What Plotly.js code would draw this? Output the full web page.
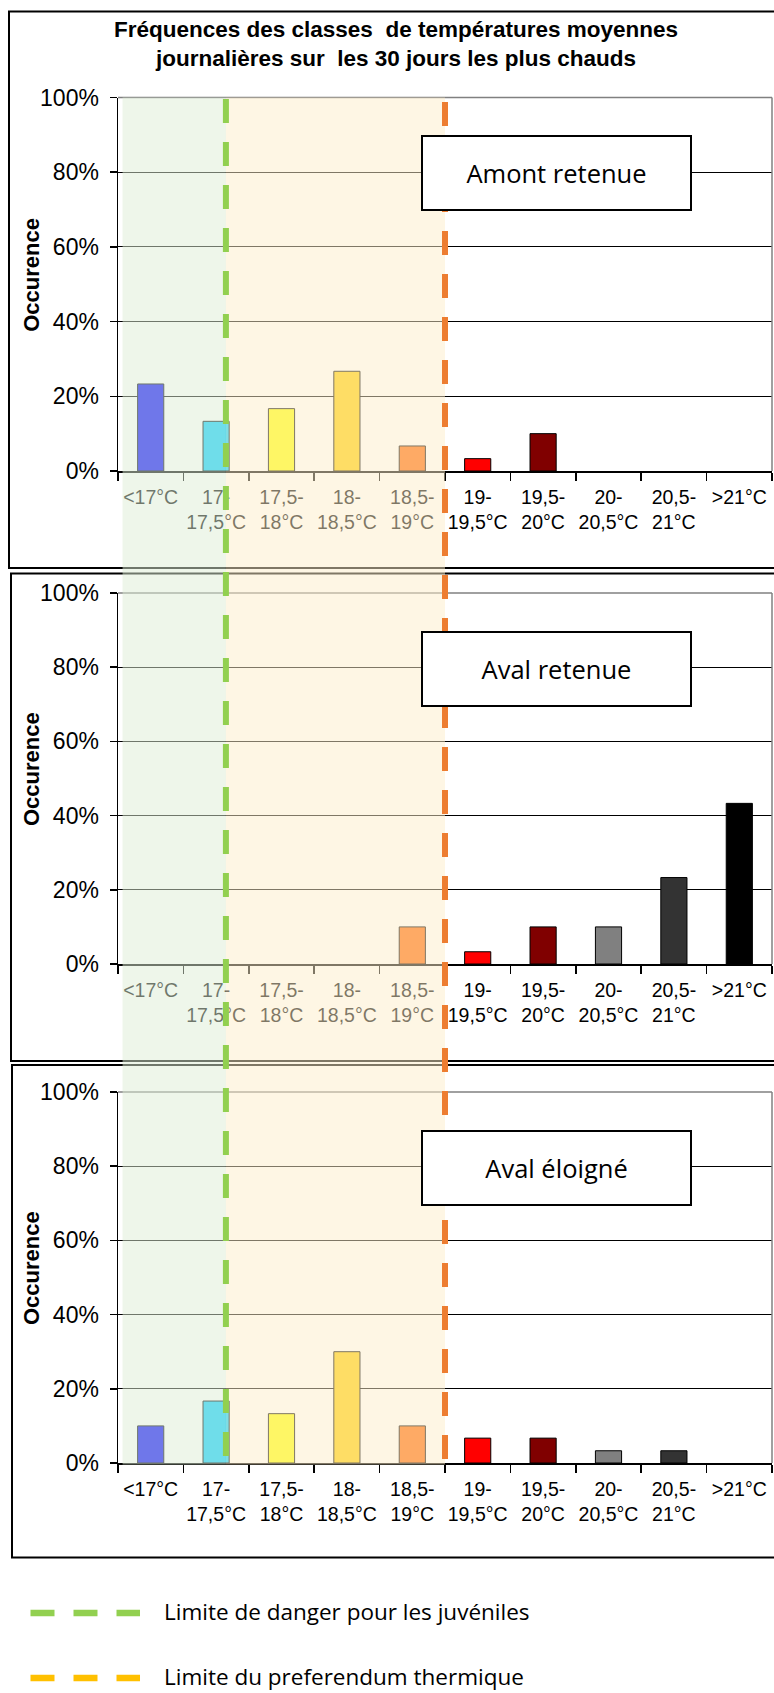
<!DOCTYPE html>
<html>
<head>
<meta charset="utf-8">
<script src="https://cdn.plot.ly/plotly-3.0.1.min.js"></script>
<style>html,body{margin:0;padding:0;background:#fff;}#chart{width:774px;height:1693px;}</style>
</head>
<body>
<div id="chart"></div>
<script>
// ---- data ----
const categories = ['<17°C','17-17,5°C','17,5-18°C','18-18,5°C','18,5-19°C','19-19,5°C','19,5-20°C','20-20,5°C','20,5-21°C','>21°C'];
const tickLabels = ['&lt;17°C','17-<br>17,5°C','17,5-<br>18°C','18-<br>18,5°C','18,5-<br>19°C','19-<br>19,5°C','19,5-<br>20°C','20-<br>20,5°C','20,5-<br>21°C','&gt;21°C'];
const amontRetenue = [23.3, 13.3, 16.7, 26.7, 6.7, 3.3, 10.0, 0, 0, 0];
const avalRetenue  = [0, 0, 0, 0, 10.0, 3.3, 10.0, 10.0, 23.3, 43.3];
const avalEloigne  = [10.0, 16.7, 13.3, 30.0, 10.0, 6.7, 6.7, 3.3, 3.3, 0];
const panelNames = ['Amont retenue', 'Aval retenue', 'Aval éloigné'];
const barColors = ['#0000FF','#00CCFF','#FFFF00','#FFCC00','#FF6600','#FF0000','#800000','#808080','#333333','#000000'];
const yTicks = [0, 20, 40, 60, 80, 100];
const yTickLabels = ['0%', '20%', '40%', '60%', '80%', '100%'];
const yTitle = 'Occurence';
const juvenileLimit = 1.15;     // position on category axis (index units)
const preferendumLimit = 4.5;
const legendLabels = ['Limite de danger pour les juvéniles', 'Limite du preferendum thermique'];

// ---- geometry ----
const W = 774, H = 1693;
const px = v => v / W;
const py = v => 1 - v / H;
const xDom = [118 / W, 772 / W];
const panels = [
  {top: 97.5, bottom: 471},
  {top: 593, bottom: 964},
  {top: 1092, bottom: 1463}
];
const catToPaper = v => xDom[0] + (v + 0.5) / categories.length * (xDom[1] - xDom[0]);

const series = [amontRetenue, avalRetenue, avalEloigne];
const traces = series.map((vals, i) => ({
  type: 'bar',
  x: categories,
  y: vals,
  xaxis: i === 0 ? 'x' : 'x' + (i + 1),
  yaxis: i === 0 ? 'y' : 'y' + (i + 1),
  width: 0.4,
  marker: {color: barColors, line: {color: '#000000', width: vals.map(v => v > 0 ? 1 : 0)}},
  showlegend: false,
  hoverinfo: 'skip'
}));

const layout = {
  width: W, height: H,
  margin: {l: 0, r: 0, t: 0, b: 0},
  paper_bgcolor: '#ffffff',
  plot_bgcolor: '#ffffff',
  showlegend: false,
  title: {
    text: '<b>Fréquences des classes  de températures moyennes<br>journalières sur  les 30 jours les plus chauds</b>',
    font: {family: 'Liberation Sans, Arial, sans-serif', size: 22.5, color: '#000'},
    x: 396 / W, xanchor: 'center', xref: 'paper',
    y: py(37), yanchor: 'middle', yref: 'container'
  },
  shapes: [],
  annotations: []
};

panels.forEach((p, i) => {
  const sfx = i === 0 ? '' : String(i + 1);
  layout['xaxis' + sfx] = {
    domain: xDom,
    anchor: 'y' + sfx,
    type: 'category',
    range: [-0.5, 9.5],
    tickmode: 'array',
    tickvals: categories,
    ticktext: tickLabels,
    tickson: 'boundaries',
    ticks: 'outside', ticklen: 8, tickwidth: 1.5, tickcolor: '#000',
    ticklabelstandoff: 8,
    showline: true, linecolor: '#000', linewidth: 1.5,
    showgrid: false,
    tickfont: {family: 'Liberation Sans, Arial, sans-serif', size: 19.5, color: '#000'},
    tickangle: 0,
    fixedrange: true
  };
  layout['yaxis' + sfx] = {
    domain: [py(p.bottom), py(p.top)],
    anchor: 'x' + sfx,
    range: [0, 100],
    tickmode: 'array',
    tickvals: yTicks,
    ticktext: yTickLabels,
    ticks: 'outside', ticklen: 7, tickwidth: 1.5, tickcolor: '#000',
    ticklabelstandoff: 6,
    showline: true, linecolor: '#000', linewidth: 1.5,
    showgrid: true, gridcolor: '#000', gridwidth: 1,
    zeroline: false,
    tickfont: {family: 'Liberation Sans, Arial, sans-serif', size: 23, color: '#000'},
    fixedrange: true
  };
  // y axis title (placed precisely like the reference)
  layout.annotations.push({
    xref: 'paper', yref: 'paper',
    x: px(31.5), y: py((p.top + p.bottom) / 2 - 9),
    xanchor: 'center', yanchor: 'middle', textangle: -90, showarrow: false,
    text: '<b>' + yTitle + '</b>',
    font: {family: 'Liberation Sans, Arial, sans-serif', size: 22, color: '#000'}
  });
  // gray top and right border of the plot area
  layout.shapes.push(
    {type: 'line', layer: 'above', xref: 'x' + sfx + ' domain', yref: 'y' + sfx + ' domain',
     x0: 0, x1: 1, y0: 1, y1: 1, line: {color: '#808080', width: 1.5}},
    {type: 'line', layer: 'above', xref: 'x' + sfx + ' domain', yref: 'y' + sfx + ' domain',
     x0: 1, x1: 1, y0: 0, y1: 1, line: {color: '#808080', width: 1.5}}
  );
  // panel name box
  const boxTop = p.top + 37.5, boxBottom = p.top + 113.5;
  layout.annotations.push({
    xref: 'paper', yref: 'paper',
    x: px(556.5), y: py((boxTop + boxBottom) / 2),
    xanchor: 'center', yanchor: 'middle',
    text: panelNames[i],
    showarrow: false,
    width: 267, height: 72,
    bgcolor: '#ffffff', bordercolor: '#000', borderwidth: 2, borderpad: 0,
    font: {family: 'Open Sans, DejaVu Sans, sans-serif', size: 25.5, color: '#000'}
  });
});

// outer frames of the three panels
const frames = [[9, 11.5, 568], [11, 573.5, 1061], [12, 1065, 1557.5]];
frames.forEach(f => {
  layout.shapes.push({type: 'rect', layer: 'below', xref: 'paper', yref: 'paper',
    x0: px(f[0]), x1: px(790), y0: py(f[2]), y1: py(f[1]),
    line: {color: '#000', width: 2}, fillcolor: 'rgba(0,0,0,0)'});
});

// translucent zones (drawn above so that they veil grid, bars and labels)
const zoneTop = py(panels[0].top), zoneBottom = py(1464.5);
layout.shapes.push(
  {type: 'rect', layer: 'above', xref: 'paper', yref: 'paper',
   x0: catToPaper(-0.43), x1: catToPaper(juvenileLimit), y0: zoneBottom, y1: zoneTop,
   line: {width: 0}, fillcolor: 'rgba(222,237,214,0.5)'},
  {type: 'rect', layer: 'above', xref: 'paper', yref: 'paper',
   x0: catToPaper(juvenileLimit), x1: catToPaper(preferendumLimit), y0: zoneBottom, y1: zoneTop,
   line: {width: 0}, fillcolor: 'rgba(253,237,201,0.5)'}
);
// dashed limit lines
layout.shapes.push(
  {type: 'line', layer: 'above', xref: 'paper', yref: 'paper',
   x0: catToPaper(juvenileLimit), x1: catToPaper(juvenileLimit), y0: py(99), y1: zoneBottom,
   line: {color: '#92D050', width: 6, dash: '24px,19px'}},
  {type: 'line', layer: 'above', xref: 'paper', yref: 'paper',
   x0: catToPaper(preferendumLimit), x1: catToPaper(preferendumLimit), y0: py(102), y1: zoneBottom,
   line: {color: '#ED7D31', width: 6, dash: '24px,19px'}}
);

// legend (custom)
const legendY = [1613, 1678];
const legendColors = ['#92D050', '#FFC000'];
legendLabels.forEach((lab, i) => {
  layout.shapes.push({type: 'line', layer: 'above', xref: 'paper', yref: 'paper',
    x0: px(30.5), x1: px(140), y0: py(legendY[i]), y1: py(legendY[i]),
    line: {color: legendColors[i], width: 6.5, dash: '24px,19px'}});
  layout.annotations.push({xref: 'paper', yref: 'paper', x: px(162), y: py(legendY[i] - 2),
    xanchor: 'left', yanchor: 'middle', showarrow: false, text: lab,
    font: {family: 'Open Sans, DejaVu Sans, sans-serif', size: 22.5, color: '#000'}});
});

Plotly.newPlot('chart', traces, layout, {staticPlot: true, displayModeBar: false});
</script>
</body>
</html>
